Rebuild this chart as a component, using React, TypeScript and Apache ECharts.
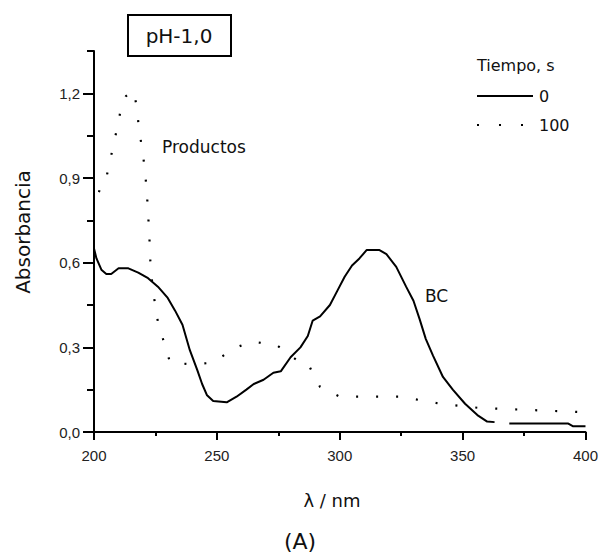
import React, { useEffect, useRef } from "react";
import * as echarts from "echarts";

// Wavelength (nm) / absorbance, t = 0 s (solid)
const lambda0 = [200, 201, 203, 205, 207, 210, 214, 218, 222, 226, 230, 233, 236, 239, 242, 244, 246, 248.5, 254, 258, 262, 265, 269, 273, 276, 280, 284, 287, 289, 292, 296, 299, 302, 305, 308, 311, 316, 319, 323, 327, 330, 332.5, 335, 338, 342, 346, 351, 356, 360, 363, 366, 369, 393, 395, 400];
const abs0 = [0.65, 0.615, 0.575, 0.56, 0.56, 0.58, 0.58, 0.565, 0.545, 0.515, 0.475, 0.43, 0.38, 0.29, 0.22, 0.17, 0.13, 0.11, 0.105, 0.125, 0.15, 0.17, 0.185, 0.21, 0.215, 0.265, 0.3, 0.34, 0.395, 0.41, 0.45, 0.5, 0.55, 0.59, 0.615, 0.645, 0.645, 0.63, 0.585, 0.515, 0.465, 0.4, 0.33, 0.27, 0.195, 0.15, 0.1, 0.06, 0.037, 0.035, null, 0.03, 0.03, 0.02, 0.02];

// t = 100 s (dotted)
const lambda100 = [202, 203, 205, 208.5, 210, 211, 213, 216, 217.5, 218.3, 219.5, 220.7, 221.5, 222.5, 223, 224, 226, 231, 240, 248, 258, 264, 274, 282.5, 287, 290, 292, 300, 325, 341, 357, 386, 400];
const abs100 = [0.85, 0.88, 0.9, 1.04, 1.1, 1.15, 1.19, 1.21, 1.15, 1.07, 1.01, 0.93, 0.85, 0.7, 0.59, 0.5, 0.39, 0.245, 0.24, 0.245, 0.3, 0.32, 0.31, 0.255, 0.245, 0.19, 0.16, 0.125, 0.125, 0.1, 0.085, 0.075, 0.07];

const yTickValues = [0, 0.3, 0.6, 0.9, 1.2];
const yTickLabels = ["0,0", "0,3", "0,6", "0,9", "1,2"];
const seriesNames = ["0", "100"];

const FONT = "Liberation Sans, Arial, sans-serif";
const WIDE = "DejaVu Sans, Verdana, sans-serif";

export default function App() {
  const ref = useRef<HTMLDivElement>(null);
  useEffect(() => {
    if (!ref.current) return;
    const chart = echarts.init(ref.current, null, { renderer: "svg" });
    const pair = (xs: number[], ys: (number | null)[]) => xs.map((x, i) => [x, ys[i] === null ? "-" : ys[i]]);
    const labelFor = (v: number) => {
      const i = yTickValues.findIndex((t) => Math.abs(t - v) < 1e-6);
      return i >= 0 ? yTickLabels[i] : "";
    };
    chart.setOption({
      animation: false,
      backgroundColor: "#ffffff",
      grid: { left: 94, right: 15, top: 51, bottom: 121, containLabel: false },
      xAxis: {
        type: "value",
        min: 200,
        max: 400,
        interval: 50,
        axisLine: { show: true, lineStyle: { color: "#000", width: 2 } },
        axisTick: { show: true, length: 8, lineStyle: { color: "#000", width: 2 } },
        minorTick: { show: true, splitNumber: 2, length: 4, lineStyle: { color: "#000", width: 2 } },
        axisLabel: { margin: 16, fontSize: 15, color: "#222", fontFamily: FONT },
        splitLine: { show: false },
        minorSplitLine: { show: false },
      },
      yAxis: [
        {
          type: "value",
          min: 0,
          max: 1.35,
          interval: 0.15,
          axisLine: { show: true, lineStyle: { color: "#000", width: 2 } },
          axisTick: { show: true, length: 7, lineStyle: { color: "#000", width: 2 } },
          axisLabel: {
            customValues: yTickValues,
            formatter: (v: number) => labelFor(v),
            margin: 14,
            fontSize: 15,
            color: "#222",
            fontFamily: FONT,
          },
          splitLine: { show: false },
        },
        {
          type: "value",
          min: 0,
          max: 1.35,
          position: "left",
          axisLine: { show: false },
          axisTick: { show: true, customValues: yTickValues, length: 11, lineStyle: { color: "#000", width: 2 } },
          axisLabel: { show: false },
          splitLine: { show: false },
        },
      ],
      series: [
        {
          name: seriesNames[0],
          type: "line",
          data: pair(lambda0, abs0),
          showSymbol: false,
          connectNulls: false,
          lineStyle: { color: "#000", width: 2 },
          yAxisIndex: 0,
        },
        {
          name: seriesNames[1],
          type: "line",
          data: pair(lambda100, abs100),
          showSymbol: false,
          lineStyle: { color: "#000", width: 2.2, type: [2, 18], cap: "butt" },
          yAxisIndex: 0,
        },
      ],
      graphic: [
        {
          type: "rect",
          shape: { x: 128, y: 15, width: 103, height: 41 },
          style: { fill: "#fff", stroke: "#000", lineWidth: 2 },
        },
        {
          type: "text",
          x: 179,
          y: 36,
          style: { text: "pH-1,0", font: `20px ${WIDE}`, fill: "#111", align: "center", verticalAlign: "middle" },
        },
        {
          type: "text",
          x: 477,
          y: 65,
          style: { text: "Tiempo, s", font: `16px ${WIDE}`, fill: "#111", align: "left", verticalAlign: "middle" },
        },
        {
          type: "line",
          shape: { x1: 477, y1: 96, x2: 533, y2: 96 },
          style: { stroke: "#000", lineWidth: 2 },
        },
        {
          type: "text",
          x: 539,
          y: 96,
          style: { text: seriesNames[0], font: `16px ${WIDE}`, fill: "#111", align: "left", verticalAlign: "middle" },
        },
        {
          type: "line",
          shape: { x1: 477, y1: 125, x2: 533, y2: 125 },
          style: { stroke: "#000", lineWidth: 2, lineDash: [2, 20] },
        },
        {
          type: "text",
          x: 539,
          y: 125,
          style: { text: seriesNames[1], font: `16px ${WIDE}`, fill: "#111", align: "left", verticalAlign: "middle" },
        },
        {
          type: "text",
          x: 162,
          y: 147,
          style: { text: "Productos", font: `17px ${WIDE}`, fill: "#111", align: "left", verticalAlign: "middle" },
        },
        {
          type: "text",
          x: 425,
          y: 296,
          style: { text: "BC", font: `17px ${WIDE}`, fill: "#111", align: "left", verticalAlign: "middle" },
        },
        {
          type: "text",
          x: 23,
          y: 232,
          rotation: Math.PI / 2,
          style: { text: "Absorbancia", font: `20px ${WIDE}`, fill: "#111", align: "center", verticalAlign: "middle" },
        },
        {
          type: "text",
          x: 332,
          y: 500,
          style: { text: "λ / nm", font: `18px ${WIDE}`, fill: "#111", align: "center", verticalAlign: "middle" },
        },
        {
          type: "text",
          x: 300,
          y: 541,
          style: { text: "(A)", font: `22px ${WIDE}`, fill: "#111", align: "center", verticalAlign: "middle" },
        },
      ],
    });
    return () => chart.dispose();
  }, []);
  return (
    <div
      ref={ref}
      style={{ position: "fixed", left: 0, top: 0, width: 601, height: 553, background: "#fff" }}
    />
  );
}
